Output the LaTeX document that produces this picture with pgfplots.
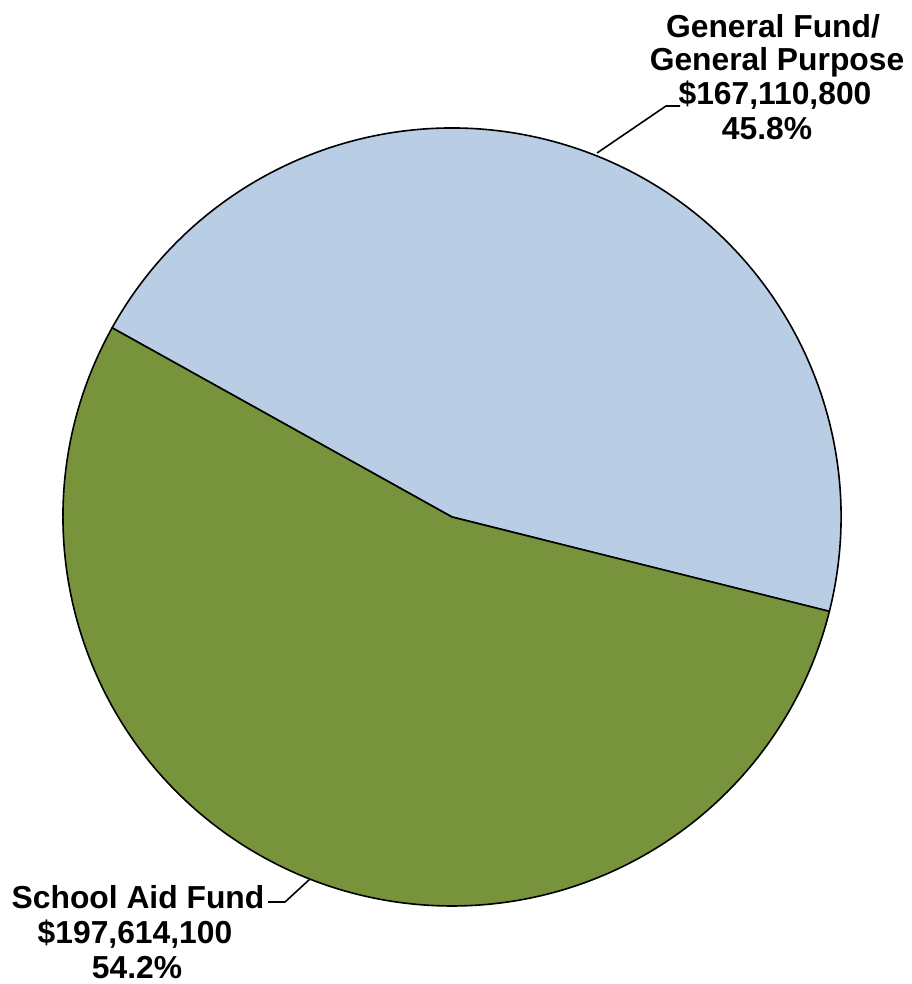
\documentclass[border=0pt]{standalone}
\usepackage{pgfplots}
\pgfplotsset{compat=1.18}
\usepackage{fontspec}
\setmainfont{Liberation Sans}
\definecolor{gfblue}{RGB}{185,205,229}
\definecolor{safgreen}{RGB}{119,147,60}
\begin{document}
\begin{tikzpicture}
% values in millions of dollars
\pgfmathsetmacro\vGF{167.1108}
\pgfmathsetmacro\vSAF{197.6141}
\pgfmathsetmacro\angGF{\vGF/(\vGF+\vSAF)*360}
\pgfmathsetmacro\st{150.9}
\pgfmathsetmacro\aEnd{\st-\angGF}
\pgfmathsetmacro\bEnd{\st+360-\angGF}
\begin{axis}[
    x=0.5pt, y=0.5pt,
    y dir=reverse,
    xmin=0, xmax=911,
    ymin=0, ymax=984,
    scale only axis,
    hide axis,
    clip=false,
]
\path (axis cs:0,0) rectangle (axis cs:911,984);
% General Fund slice
\filldraw[fill=gfblue, draw=black, line width=0.8pt, line join=round]
  (axis cs:452,517) -- (axis cs:{452+389*cos(\aEnd)},{517-389*sin(\aEnd)})
  arc[start angle=\aEnd, end angle=\st, radius=194.5pt] -- cycle;
% School Aid Fund slice
\filldraw[fill=safgreen, draw=black, line width=0.8pt, line join=round]
  (axis cs:452,517) -- (axis cs:{452+389*cos(\st)},{517-389*sin(\st)})
  arc[start angle=\st, end angle=\bEnd, radius=194.5pt] -- cycle;
% leader lines
\draw[line width=0.8pt] (axis cs:597,153) -- (axis cs:666,106) -- (axis cs:680,106);
\draw[line width=0.8pt] (axis cs:310,879) -- (axis cs:285,902) -- (axis cs:268,902);
% labels
\begin{scope}[every node/.style={font=\fontsize{15.9}{17}\selectfont\bfseries, anchor=base, inner sep=0pt}]
\node at (axis cs:773,38) {General Fund/};
\node at (axis cs:777,71) {General Purpose};
\node at (axis cs:775,105) {\$167,110,800};
\node at (axis cs:767,140) {45.8\%};
\node at (axis cs:138,908) {School Aid Fund};
\node at (axis cs:135,943) {\$197,614,100};
\node at (axis cs:137,978) {54.2\%};
\end{scope}
\end{axis}
\end{tikzpicture}
\end{document}
